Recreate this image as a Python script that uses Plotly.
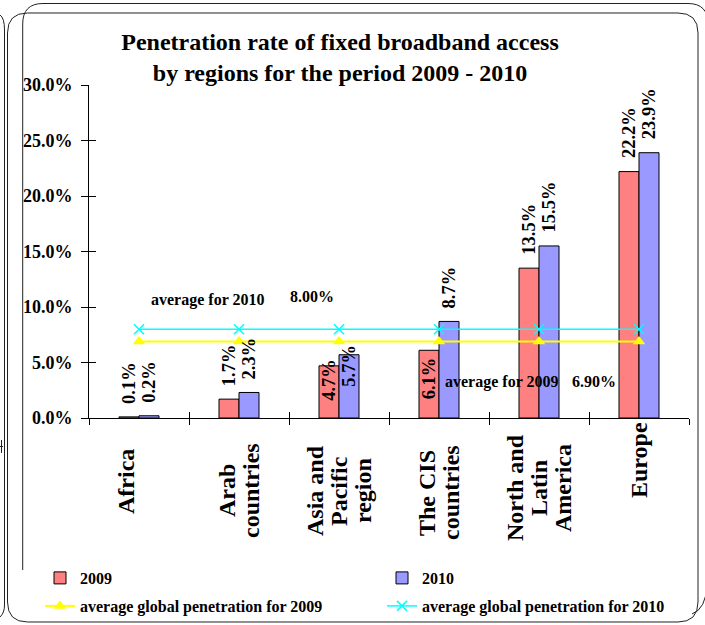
import plotly.graph_objects as go

# ---- data -------------------------------------------------------------
regions = ["Africa", "Arab countries", "Asia and Pacific region",
           "The CIS countries", "North and Latin America", "Europe"]
region_lines = [["Africa"], ["Arab", "countries"], ["Asia and", "Pacific", "region"],
                ["The CIS", "countries"], ["North and", "Latin", "America"], ["Europe"]]
rate_2009 = [0.1, 1.7, 4.7, 6.1, 13.5, 22.2]
rate_2010 = [0.2, 2.3, 5.7, 8.7, 15.5, 23.9]
avg_2009 = 6.90
avg_2010 = 8.00
y_ticks = [0, 5, 10, 15, 20, 25, 30]
y_tick_text = [f"{v:.1f}%" for v in y_ticks]

# ---- page geometry (pixels) -----------------------------------------
W, H = 705, 625
ML, MR, MT, MB = 89, 16, 85, 207
PW, PH = W - ML - MR, H - MT - MB
FONT = "Liberation Serif"
RED, BLUE = "#FF8080", "#9999FF"


def fx(p):
    return (p - ML) / PW


def fy(p):
    return (H - MB - p) / PH


def page_path(cmds):
    out = []
    for c in cmds:
        op, pts = c[0], c[1:]
        out.append(op + " " + " ".join(f"{fx(x):.5f},{fy(y):.5f}" for x, y in pts))
    return " ".join(out).strip()


fig = go.Figure()

fig.add_trace(go.Bar(name="2009", x=regions, y=rate_2009, marker_color=RED,
                     marker_line=dict(color="#000000", width=1), hoverinfo="skip",
                     legend="legend"))
fig.add_trace(go.Bar(name="2010", x=regions, y=rate_2010, marker_color=BLUE,
                     marker_line=dict(color="#000000", width=1), hoverinfo="skip",
                     legend="legend"))
fig.add_trace(go.Scatter(name="average global penetration for 2009", x=regions,
                         y=[avg_2009] * len(regions), mode="lines+markers",
                         line=dict(color="#FFFF00", width=2),
                         marker=dict(symbol="triangle-up", size=11, color="#FFFF00"),
                         hoverinfo="skip", legend="legend2"))
fig.add_trace(go.Scatter(name="average global penetration for 2010", x=regions,
                         y=[avg_2010] * len(regions), mode="lines+markers",
                         line=dict(color="#00FFFF", width=1.5),
                         marker=dict(symbol="x-thin-open", size=10,
                                     line=dict(color="#00FFFF", width=1.5)),
                         hoverinfo="skip", legend="legend2"))
# empty trace carrying the overlay axes used for the inner half of the ticks
fig.add_trace(go.Scatter(x=[], y=[], xaxis="x2", yaxis="y2", showlegend=False,
                         hoverinfo="skip"))

annotations = []

# value labels above the bars
label_place = {  # (series, index): (yanchor, yshift)
    (0, 2): ("top", 9),
    (1, 2): ("top", 12),
    (0, 3): ("top", -5),
}
for s, (vals, dx) in enumerate([(rate_2009, -10), (rate_2010, 10)]):
    for i, v in enumerate(vals):
        anchor, shift = label_place.get((s, i), ("bottom", 11))
        annotations.append(dict(
            x=regions[i], y=v, xref="x", yref="y", text=f"{v:.1f}%",
            textangle=-90, showarrow=False, xanchor="center", yanchor=anchor,
            xshift=dx, yshift=shift,
            font=dict(family=FONT, size=18.5, color="black", weight="bold")))

# category names, one annotation per line
cat_center_y = [482, 491, 491, 493, 488, 460]
cat_xshift = [-13, 0, 0, 0, 0, 0]
for i, lines in enumerate(region_lines):
    n = len(lines)
    for j, t in enumerate(lines):
        annotations.append(dict(
            x=regions[i], y=fy(cat_center_y[i]), xref="x", yref="paper", text=t,
            textangle=-90, showarrow=False, xanchor="center", yanchor="middle",
            xshift=(j - (n - 1) / 2) * 24 + cat_xshift[i],
            font=dict(family=FONT, size=24, color="black", weight="bold")))

# average captions
for txt, cx, cy in [("average for 2010", 207.5, 299.5), (f"{avg_2010:.2f}%", 311.5, 296.5),
                    ("average for 2009", 501, 382), (f"{avg_2009:.2f}%", 594, 381.5)]:
    annotations.append(dict(
        x=fx(cx), y=fy(cy), xref="paper", yref="paper", text=txt, showarrow=False,
        xanchor="center", yanchor="middle",
        font=dict(family=FONT, size=16, color="black", weight="bold")))

# decorative frames around the chart
frame_line = dict(color="#222222", width=1)
shapes = [
    dict(type="path", xref="paper", yref="paper", line=frame_line, layer="above",
         path=page_path([("M", (7.5, 33)), ("Q", (7.5, 13), (27.5, 13)), ("L", (678, 13)),
                         ("Q", (698, 13), (698, 33)), ("L", (698, 602)),
                         ("Q", (698, 622), (678, 622)), ("L", (27.5, 622)),
                         ("Q", (7.5, 622), (7.5, 602)), ("Z",)])),
    dict(type="path", xref="paper", yref="paper", line=frame_line, layer="above",
         path=page_path([("M", (22.7, 570)), ("L", (22.7, 24)), ("Q", (22.7, 3.5), (43, 3.5)),
                         ("L", (688, 3.5)), ("Q", (708, 3.5), (708, 24))])),
    dict(type="path", xref="paper", yref="paper", line=frame_line, layer="above",
         path=page_path([("M", (707, 585)), ("Q", (706, 609), (692, 614))])),
    dict(type="path", xref="paper", yref="paper", line=frame_line, layer="above",
         path=page_path([("M", (0, 15)), ("Q", (4.5, 18), (4.5, 30)), ("L", (4.5, 605)),
                         ("Q", (4.5, 613), (0, 617))])),
    dict(type="path", xref="paper", yref="paper", line=frame_line, layer="above",
         path=page_path([("M", (1.5, 440)), ("L", (1.5, 453)), ("M", (0, 446.5)),
                         ("L", (3, 446.5))])),
]

legend_common = dict(orientation="h", xanchor="left", yanchor="middle",
                     entrywidth=297, entrywidthmode="pixels", bgcolor="rgba(0,0,0,0)",
                     font=dict(family=FONT, size=16, color="black", weight="bold"),
                     traceorder="normal")

fig.update_layout(
    width=W, height=H,
    margin=dict(l=ML, r=MR, t=MT, b=MB, pad=0, autoexpand=False),
    paper_bgcolor="white", plot_bgcolor="white",
    barmode="group", bargap=0.6, bargroupgap=0,
    font=dict(family=FONT, color="black"),
    title=dict(text="Penetration rate of fixed broadband access<br>by regions for the period 2009 - 2010",
               x=fx(340), xref="paper", xanchor="center",
               y=1 - 50 / H, yref="container", yanchor="middle",
               font=dict(family=FONT, size=24, color="black", weight="bold")),
    xaxis=dict(type="category", categoryorder="array", categoryarray=regions,
               showticklabels=False, tickson="boundaries", ticks="outside",
               ticklen=6, tickcolor="black", tickwidth=1,
               showline=True, linecolor="black", linewidth=1,
               showgrid=False, zeroline=False, fixedrange=True),
    yaxis=dict(range=[0, 30], tickvals=y_ticks, ticktext=y_tick_text,
               ticks="outside", ticklen=7, tickcolor="black", tickwidth=1,
               ticklabelstandoff=5,
               tickfont=dict(family=FONT, size=18, color="black", weight="bold"),
               showline=True, linecolor="black", linewidth=1,
               showgrid=False, zeroline=False, fixedrange=True),
    xaxis2=dict(overlaying="x", anchor="y2", range=[-0.5, 5.5],
                tickvals=[k - 0.5 for k in range(len(regions) + 1)],
                ticks="inside", ticklen=6, tickcolor="black", tickwidth=1,
                showticklabels=False, showline=False, showgrid=False,
                zeroline=False, fixedrange=True),
    yaxis2=dict(overlaying="y", anchor="x2", range=[0, 30], tickvals=y_ticks,
                ticks="inside", ticklen=7, tickcolor="black", tickwidth=1,
                showticklabels=False, showline=False, showgrid=False,
                zeroline=False, fixedrange=True),
    legend=dict(legend_common, x=fx(40), y=fy(578)),
    legend2=dict(legend_common, x=fx(40), y=fy(606)),
    annotations=annotations,
    shapes=shapes,
    showlegend=True,
)

fig.write_html("out.html")
